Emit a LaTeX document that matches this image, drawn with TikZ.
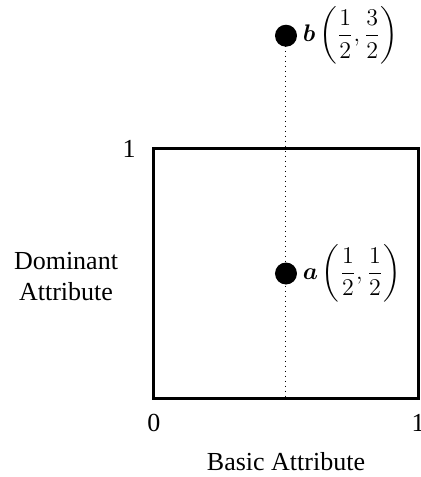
\documentclass[tikz,border=0pt]{standalone}
\usepackage{amsmath}
\usepackage{bm}
\usepackage{fontspec}
\setmainfont{Liberation Serif}
\usepackage{tikz}
\usetikzlibrary{positioning}

\tikzset{
	ptmark/.style={circle, fill=black, inner sep=0pt, minimum size=11pt},
	ptlabel/.style={anchor=west, inner sep=0pt},
	ticklabel/.style={inner sep=2pt}
}

\begin{document}
\begin{tikzpicture}[x=132pt, y=124.5pt, font=\fontsize{13}{15.5}\selectfont]
		\useasboundingbox (-77pt,-39.5pt) rectangle (133pt,199pt);
		% unit square of the two attributes
		\coordinate (O) at (0,0);
		\coordinate (X) at (1,0);
		\coordinate (Y) at (0,1);
		\coordinate (mid) at (0.5,0);
		\coordinate (top) at (0.5,1.455);
		\draw[line width=1.5pt] (O) rectangle (1,1);
		
		% dotted guide behind both points
		\draw[dotted, line width=0.5pt] (top) -- (mid);
		\node[ptmark] (a) at (0.5,0.5) {};
		\node[ptmark] (b) at (top) {};
		\node[ptlabel] (alabel) at ([xshift=2.5pt]a.east) {$\bm{a}\left(\dfrac{1}{2},\dfrac{1}{2}\right)$};
		\node[ptlabel] (blabel) at ([xshift=2.5pt]b.east) {$\bm{b}\left(\dfrac{1}{2},\dfrac{3}{2}\right)$};
		
		\node[ticklabel, left=7pt of Y] (one y) {1};
		\node[ticklabel, below=6pt of O] (zero) {0};
		\node[ticklabel, below=6pt of X] (one x) {1};
		\node (xtitle) at (0.5,0) [yshift=-32pt] {Basic Attribute};
		\node[align=center] (ytitle) at (0,0.486) [xshift=-44pt] {Dominant\\Attribute};
	\end{tikzpicture}
\end{document}
